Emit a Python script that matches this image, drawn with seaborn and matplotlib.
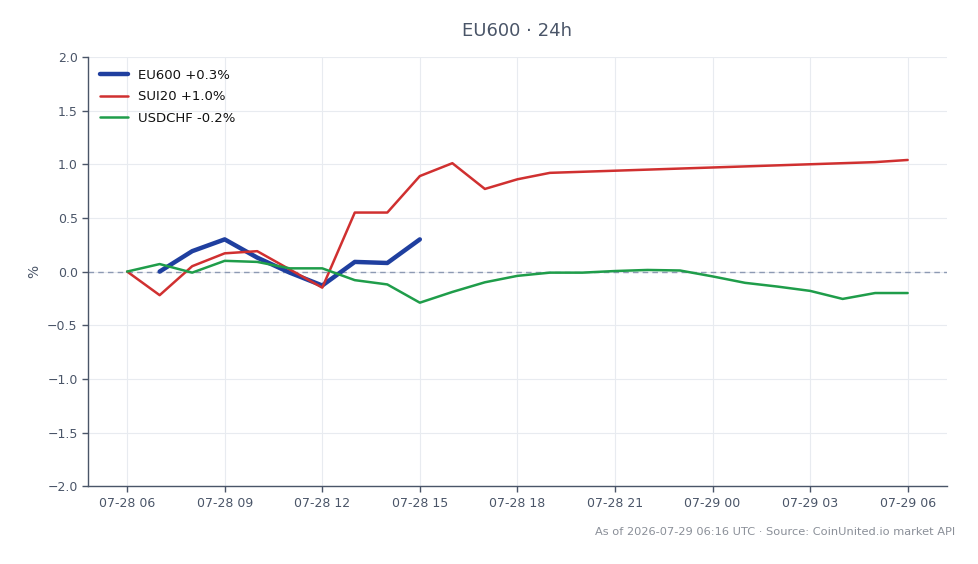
import matplotlib
matplotlib.use("Agg")
import matplotlib.pyplot as plt
import matplotlib.dates as mdates
import seaborn as sns
import pandas as pd
import numpy as np

sns.set_theme(style="white")
plt.rcParams['font.family'] = ['DejaVu Sans']

start = pd.Timestamp("2026-07-28 06:00")
hours_all = pd.date_range(start, periods=25, freq="h")

eu600_hours = hours_all[1:10]
eu600_vals = [0.0, 0.19, 0.30, 0.13, -0.01, -0.13, 0.09, 0.08, 0.30]

sui20_vals = [0.0, -0.22, 0.05, 0.17, 0.19, 0.02, -0.15, 0.55, 0.55, 0.89, 1.01, 0.77,
              0.86, 0.92, 0.93, 0.94, 0.95, 0.96, 0.97, 0.98, 0.99, 1.00, 1.01, 1.02, 1.04]

usdchf_vals = [0.0, 0.07, -0.01, 0.10, 0.09, 0.03, 0.03, -0.08, -0.12, -0.29, -0.19, -0.10,
               -0.04, -0.01, -0.01, 0.005, 0.015, 0.01, -0.045, -0.105, -0.14, -0.18, -0.255, -0.20, -0.20]

labels = ["EU600 +0.3%", "SUI20 +1.0%", "USDCHF -0.2%"]
colors = ["#1f3f9f", "#d03030", "#1f9d4a"]
widths = [3.2, 1.8, 1.8]

df = pd.concat([
    pd.DataFrame({"time": eu600_hours, "value": eu600_vals, "series": labels[0]}),
    pd.DataFrame({"time": hours_all, "value": sui20_vals, "series": labels[1]}),
    pd.DataFrame({"time": hours_all, "value": usdchf_vals, "series": labels[2]}),
])

fig = plt.figure(figsize=(9.79, 5.64), dpi=100)
ax = fig.add_axes([0.09, 0.138, 0.877, 0.761])

txt = "#4a5568"
ax.axhline(0, color="#8d9ab3", lw=1.0, ls=(0, (4, 3)), zorder=1)

for lab, col, w in zip(labels, colors, widths):
    sns.lineplot(data=df[df.series == lab], x="time", y="value", color=col, lw=w,
                 label=lab, ax=ax, zorder=3)

ax.set_ylim(-2.0, 2.0)
ax.set_yticks(np.arange(-2.0, 2.01, 0.5))
ax.xaxis.set_major_locator(mdates.HourLocator(byhour=[0, 3, 6, 9, 12, 15, 18, 21]))
ax.xaxis.set_major_formatter(mdates.DateFormatter("%m-%d %H"))
ax.grid(True, color="#e8ebf0", lw=0.8)
ax.set_axisbelow(True)
for s in ["top", "right"]:
    ax.spines[s].set_visible(False)
for s in ["left", "bottom"]:
    ax.spines[s].set_color(txt)
    ax.spines[s].set_linewidth(1.0)
ax.tick_params(axis="both", colors=txt, labelsize=9, length=4, width=1, direction="out",
               left=True, bottom=True)
ax.set_xlabel("")
ax.set_ylabel("%", color=txt, fontsize=10)
ax.set_title("EU600 · 24h", color=txt, fontsize=13, pad=15)

leg = ax.legend(loc="upper left", frameon=False, fontsize=9.5, handlelength=2.1,
                handletextpad=0.8, labelspacing=0.65, borderaxespad=0.5)
for t in leg.get_texts():
    t.set_color("#111111")

fig.text(0.976, 0.047, "As of 2026-07-29 06:16 UTC · Source: CoinUnited.io market API",
         ha="right", va="bottom", fontsize=8.2, color="#8a8f98")

fig.savefig("out.png", dpi=100)
